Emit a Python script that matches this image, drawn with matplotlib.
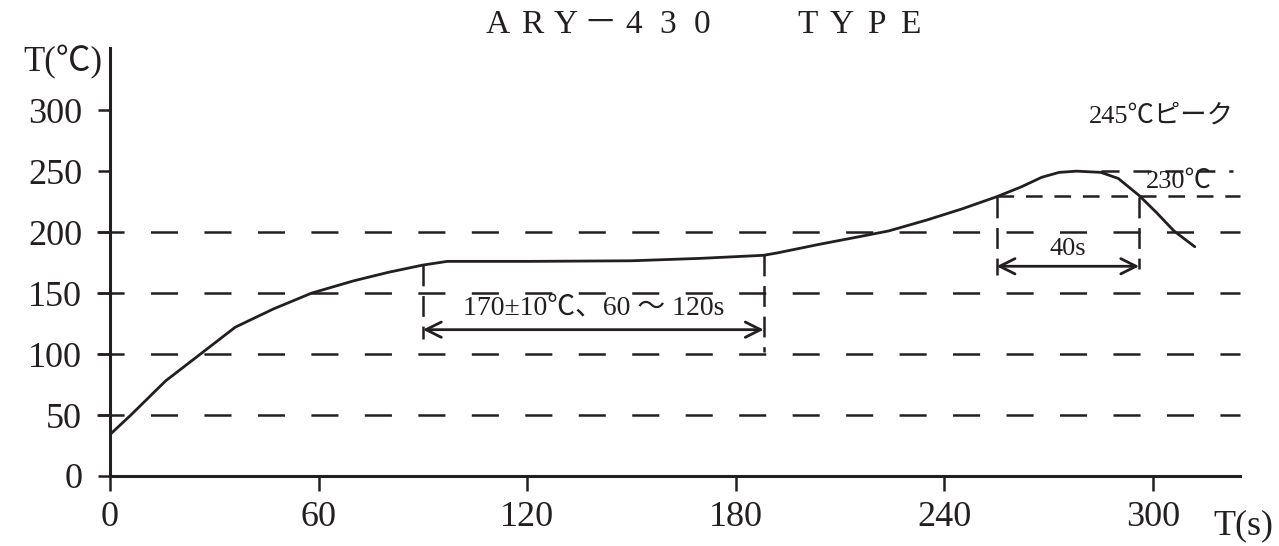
import matplotlib
matplotlib.use("Agg")
import matplotlib.pyplot as plt

# reflow profile
time_s = [0, 6, 16, 26, 36, 47, 58, 70, 80, 90, 97, 120, 150, 170, 188, 192,
          204, 215, 224, 235, 245, 255, 262, 268, 273, 278, 285, 290, 296,
          301, 306, 312]
temp_c = [34, 50, 78, 100, 122, 137, 150, 160, 167, 173, 176, 176, 176.5,
          178.5, 181, 183, 190, 196, 201, 210, 219, 229, 237, 245, 249, 250,
          249, 244, 230, 216, 201, 188]

guide_levels = [50, 100, 150, 200]
xticks = [0, 60, 120, 180, 240, 300]
yticks = [0, 50, 100, 150, 200, 250, 300]

preheat_window = (90, 188)      # 60~120s soak bracket
reflow_window = (255, 296)      # 40s above 230
peak_line = 250
liquidus = 230

# heading is set letter-spaced, like the original drawing
title_left = list("ARY－430")
title_right = list("TYPE")

plt.rcParams["lines.scale_dashes"] = False
FONT = ["Liberation Serif", "Noto Sans CJK JP", "DejaVu Serif"]
INK = "#231f20"
W, H = 1279, 546

fig = plt.figure(figsize=(W / 100, H / 100), dpi=100)
ax = fig.add_axes([110 / W, 1 - 476 / H, 1130 / W, 428 / H])
ax.set_xlim(0, 325)
ax.set_ylim(0, 351)

for side in ("top", "right"):
    ax.spines[side].set_visible(False)
for side in ("left", "bottom"):
    ax.spines[side].set_linewidth(2.2)
    ax.spines[side].set_color(INK)

ax.set_xticks(xticks)
ax.set_xticklabels([str(v) for v in xticks])
ax.set_yticks(yticks)
ax.set_yticklabels([str(v) for v in yticks])
ax.tick_params(axis="x", direction="out", length=11, width=1.8, color=INK,
               pad=7, labelsize=26)
ax.tick_params(axis="y", direction="out", length=9, width=1.8, color=INK,
               pad=11, labelsize=26)
for lab in ax.get_xticklabels() + ax.get_yticklabels():
    lab.set_family(FONT)
    lab.set_color(INK)

# long-dash guide lines, first dash straddles the axis
for lvl in guide_levels:
    ax.plot([-3.7, 325], [lvl, lvl], color=INK, lw=1.8, dashes=(19.5, 19),
            clip_on=False)

# short-dash lines for the reflow zone
ax.plot([reflow_window[0], 325], [liquidus, liquidus], color=INK, lw=1.8,
        dashes=(12, 8.5), clip_on=False)
ax.plot([285, 323], [peak_line, peak_line], color=INK, lw=1.8,
        dashes=(13, 10), clip_on=False)

# profile curve
ax.plot(time_s, temp_c, color=INK, lw=2.0, solid_capstyle="round",
        solid_joinstyle="round")

arrow_style = "<->,head_length=1.1,head_width=0.55"

# soak bracket
ax.plot([preheat_window[0]] * 2, [173, 112], color=INK, lw=1.8, dashes=(15, 7))
ax.plot([preheat_window[1]] * 2, [181, 102], color=INK, lw=1.8, dashes=(15, 7))
ax.annotate("", xy=(preheat_window[0], 120), xytext=(preheat_window[1], 120),
            arrowprops=dict(arrowstyle=arrow_style, color=INK, lw=2,
                            shrinkA=0, shrinkB=0))
ax.text(sum(preheat_window) / 2, 127, "170±10℃、60 ～ 120s", ha="center",
        va="bottom", fontsize=20, family=FONT, color=INK)

# reflow bracket
ax.plot([reflow_window[0]] * 2, [229, 165], color=INK, lw=1.8, dashes=(15, 7))
ax.plot([reflow_window[1]] * 2, [229, 170], color=INK, lw=1.8, dashes=(15, 7))
ax.annotate("", xy=(reflow_window[0], 172), xytext=(reflow_window[1], 172),
            arrowprops=dict(arrowstyle=arrow_style, color=INK, lw=2,
                            shrinkA=0, shrinkB=0))
ax.text(sum(reflow_window) / 2, 177, "40s", ha="center", va="bottom",
        fontsize=19, family=FONT, color=INK)

ax.text(307.5, 241, "230℃", ha="center", va="center", fontsize=19,
        family=FONT, color=INK)
ax.text(302.5, 295, "245℃ピーク", ha="center", va="center", fontsize=19,
        family=FONT, color=INK)

# axis titles and heading
fig.text(63 / W, 1 - 62 / H, "T(℃)", ha="center", va="center",
         fontsize=25, family=FONT, color=INK)
fig.text(1243 / W, 1 - 526 / H, "T(s)", ha="center", va="center",
         fontsize=26, family=FONT, color=INK)
step = 34
for i, ch in enumerate(title_left):
    fig.text((498 + i * step) / W, 1 - 25 / H, ch, ha="center", va="center",
             fontsize=24, family=FONT, color=INK)
for i, ch in enumerate(title_right):
    fig.text((808 + i * step) / W, 1 - 25 / H, ch, ha="center", va="center",
             fontsize=24, family=FONT, color=INK)

fig.savefig("out.png", dpi=100, facecolor="white")
